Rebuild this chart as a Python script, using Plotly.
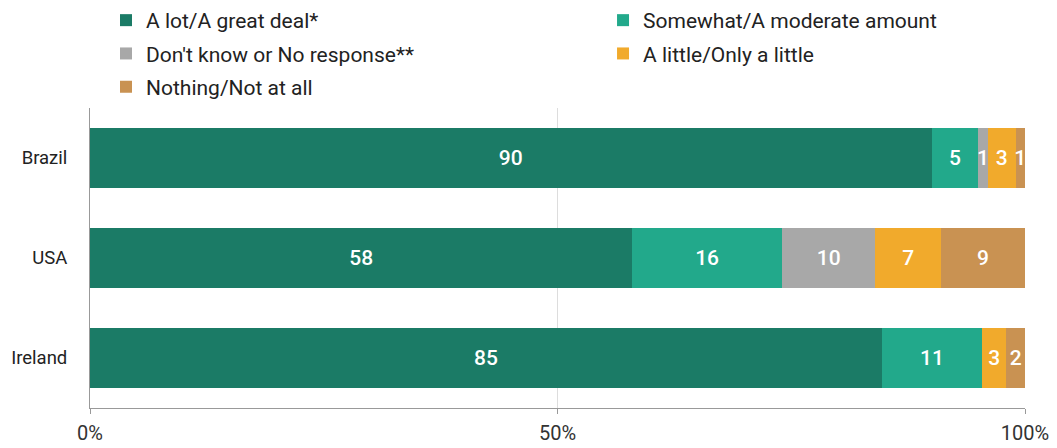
import plotly.graph_objects as go

countries = ["Brazil", "USA", "Ireland"]
series_names = [
    "A lot/A great deal*",
    "Somewhat/A moderate amount",
    "Don't know or No response**",
    "A little/Only a little",
    "Nothing/Not at all",
]
a_lot = [90, 58, 84.7]
somewhat = [5, 16, 10.7]
dont_know = [1, 10, 0]
a_little = [3, 7, 2.6]
nothing = [1, 9, 2.0]
colors = ["#1b7b66", "#22a98b", "#a8a8a8", "#f1aa2c", "#c99252"]
legend_ids = ["legend", "legend2", "legend", "legend2", "legend"]
x_ticks = [0, 50, 100]
x_tick_labels = ["0%", "50%", "100%"]

fig = go.Figure()
for i, (name, vals, col) in enumerate(zip(series_names, [a_lot, somewhat, dont_know, a_little, nothing], colors)):
    fig.add_trace(go.Bar(
        y=countries, x=vals, name=name, orientation="h",
        marker=dict(color=col, line=dict(width=0)),
        text=[f"{v:.0f}" if v > 0 else "" for v in vals],
        textposition="inside", insidetextanchor="middle",
        textfont=dict(color="white", size=21, family="Roboto", weight=500),
        constraintext="none", cliponaxis=False,
        legend=legend_ids[i], legendgroup=f"g{i}",
        hoverinfo="skip",
    ))

leg_common = dict(
    orientation="v", xanchor="left", yanchor="top",
    font=dict(size=21, color="#222222", family="Roboto"),
    traceorder="grouped", itemclick=False, tracegroupgap=3,
    bgcolor="rgba(0,0,0,0)",
)

fig.update_layout(
    barmode="stack",
    bargap=0.4,
    width=1049, height=440,
    margin=dict(l=82, r=32, t=100, b=40, autoexpand=False),
    paper_bgcolor="white", plot_bgcolor="white",
    font=dict(family="Roboto", color="#222222"),
    legend=dict(x=0.0171, y=1.36, **leg_common),
    legend2=dict(x=0.5487, y=1.36, **leg_common),
    xaxis=dict(
        range=[0, 100], tickvals=x_ticks, ticktext=x_tick_labels,
        showgrid=True, gridcolor="#dddddd", gridwidth=1,
        zeroline=False, showline=True, linecolor="#999999", linewidth=1,
        ticks="outside", ticklen=5, tickcolor="#999999",
        ticklabelstandoff=2, automargin=False,
        tickfont=dict(size=20, color="#333333"),
    ),
    yaxis=dict(
        categoryorder="array", categoryarray=countries, autorange="reversed",
        showline=True, linecolor="#999999", linewidth=1,
        ticks="", ticklabelstandoff=18, automargin=False,
        tickfont=dict(size=18.5, color="#222222"),
    ),
)

fig.write_html("out.html")
